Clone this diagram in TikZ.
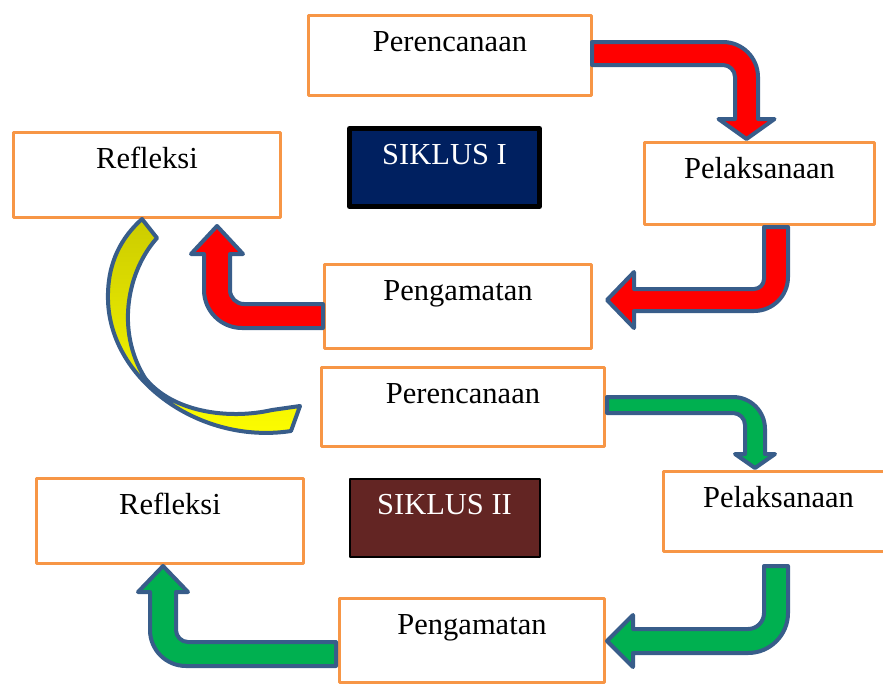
\documentclass[tikz,border=0pt]{standalone}
\usepackage{fontspec}
\setmainfont{Liberation Serif}
\definecolor{boxline}{RGB}{247,150,70}
\definecolor{arrline}{RGB}{56,93,138}
\definecolor{arrred}{RGB}{255,0,0}
\definecolor{arrgreen}{RGB}{0,176,80}
\definecolor{siknavy}{RGB}{0,32,96}
\definecolor{sikbrown}{RGB}{99,37,35}
\definecolor{oliveshade}{RGB}{204,204,0}
\begin{document}
\begin{tikzpicture}[x=1pt,y=-1pt,
 stepbox/.style={draw=boxline,line width=3pt,line join=round,fill=white,inner sep=0pt,outer sep=0pt,anchor=north,
  text height=36pt,font=\fontsize{30.5}{32}\selectfont},
 cyclebox/.style={stepbox,draw=black,text=white,minimum width=190pt,text depth=42pt},
 bentarrow/.style={draw=arrline,line width=4pt,line join=round}]
\useasboundingbox(0,0)rectangle(883,683);
\clip(0,0)rectangle(883,683);
% siklus I
\node[stepbox,minimum width=283pt,text depth=44pt](per1)at(450,15.5){Perencanaan};
\node[stepbox,minimum width=267pt,text depth=49pt](ref1)at(147,132.5){Refleksi};
\node[cyclebox,fill=siknavy,line width=5pt](sik1)at(444.5,128.5){SIKLUS I};
\node[stepbox,minimum width=230pt,text depth=46pt](pel1)at(759.5,142.5){Pelaksanaan};
\node[stepbox,minimum width=267pt,text depth=48pt](peng1)at(458,264.5){Pengamatan};
% siklus II
\node[stepbox,minimum width=283pt,text depth=43pt](per2)at(463,367.5){Perencanaan};
\node[stepbox,minimum width=267pt,text depth=49pt](ref2)at(170,478.5){Refleksi};
\node[cyclebox,fill=sikbrown,line width=2pt](sik2)at(444.5,478.5){SIKLUS II};
\node[stepbox,minimum width=230pt,text depth=44pt](pel2)at(778.5,471.5){Pelaksanaan};
\node[stepbox,minimum width=265pt,text depth=48pt](peng2)at(472,598.5){Pengamatan};
% red arrows
\draw[bentarrow,fill=arrred](592,42)--(723,42)..controls(742.3,42)and(758,57.7)..(758,77)--(758,119)--(774.5,119)--(746.5,139)--(718.5,119)--(735,119)--(735,77)..controls(735,70.4)and(729.6,65)..(723,65)--(592,65)--cycle;
\draw[bentarrow,fill=arrred](764,227)--(788,227)--(788,277)..controls(788,295.8)and(772.8,311)..(754,311)--(634,311)--(634,328)--(607,300)--(634,272)--(634,289)--(754,289)..controls(759.5,289)and(764,284.5)..(764,279)--cycle;
\draw[bentarrow,fill=arrred](323,304)--(244,304)..controls(236.3,304)and(230,297.7)..(230,290)--(230,254)--(243,254)--(217,226)--(191,254)--(204,254)--(204,290)..controls(204,311)and(221,328)..(242,328)--(323,328)--cycle;
% from siklus I to siklus II
\shadedraw[bentarrow,top color=oliveshade,bottom color=yellow](142,219)--(157,238)..controls(128,270)and(115,330)..(145,378)..controls(172,412)and(228,420)..(272,410)--(300,406)--(291,431)..controls(200,445)and(110,380)..(108,300)..controls(107,262)and(122,237)..(142,219)--cycle;
% green arrows
\draw[bentarrow,fill=arrgreen](607,397)--(733,397)..controls(750.7,397)and(765,411.3)..(765,429)--(765,454)--(775,454)--(755,468)--(735,454)--(745,454)--(745,425)..controls(745,418.4)and(739.6,413)..(733,413)--(607,413)--cycle;
\draw[bentarrow,fill=arrgreen](764,566)--(788,566)--(788,613)..controls(788,635.1)and(770.1,653)..(748,653)--(633,653)--(633,667)--(607,641)--(633,615)--(633,629)--(748,629)..controls(756.8,629)and(764,621.8)..(764,613)--cycle;
\draw[bentarrow,fill=arrgreen](336,642)--(188,642)..controls(181.4,642)and(176,636.6)..(176,630)--(176,592)--(188,592)--(163,566)--(138,592)--(150,592)--(150,630)..controls(150,649.9)and(166.1,666)..(186,666)--(336,666)--cycle;
\end{tikzpicture}
\end{document}
